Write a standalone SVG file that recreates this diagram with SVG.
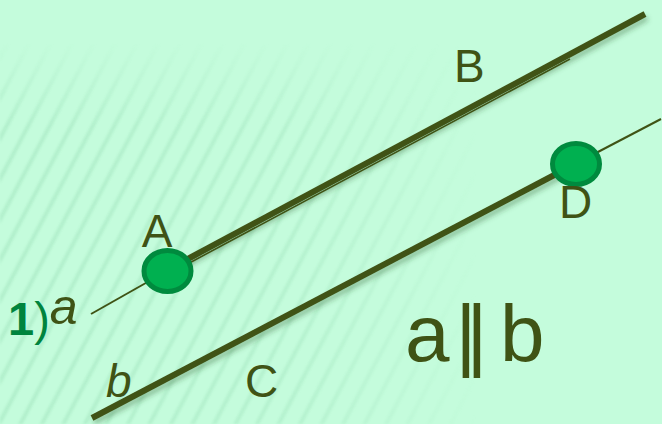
<svg xmlns="http://www.w3.org/2000/svg" width="662" height="424" viewBox="0 0 662 424">
  <defs>
    <style>
      .lbl { font-family: "Liberation Sans", Arial, sans-serif; fill: #3F5315; }
      .thick { stroke: #3F5315; stroke-width: 6; stroke-linecap: butt; fill: none; }
      .thin { stroke: #3F5315; stroke-width: 2; fill: none; }
      .pt { fill: #00B050; stroke: #008A3E; stroke-width: 5; }
    </style>
    <pattern id="stripes" patternUnits="userSpaceOnUse" width="19" height="19" patternTransform="rotate(28)">
      <rect x="6" y="0" width="4" height="19" fill="#A4E6C0"/>
    </pattern>
    <linearGradient id="fadeV" x1="0" y1="0" x2="0" y2="424" gradientUnits="userSpaceOnUse">
      <stop offset="0.1" stop-color="#fff" stop-opacity="0"/>
      <stop offset="0.3" stop-color="#fff" stop-opacity="1"/>
      <stop offset="1" stop-color="#fff" stop-opacity="1"/>
    </linearGradient>
    <linearGradient id="fadeH" x1="0" y1="0" x2="662" y2="0" gradientUnits="userSpaceOnUse">
      <stop offset="0" stop-color="#fff" stop-opacity="1"/>
      <stop offset="0.45" stop-color="#fff" stop-opacity="0.8"/>
      <stop offset="0.72" stop-color="#fff" stop-opacity="0"/>
    </linearGradient>
    <mask id="mV"><rect width="662" height="424" fill="url(#fadeV)"/></mask>
    <mask id="mH"><rect width="662" height="424" fill="url(#fadeH)"/></mask>
    <filter id="blur"><feGaussianBlur stdDeviation="1.2"/></filter>
    <filter id="sh" x="-10%" y="-10%" width="120%" height="130%">
      <feDropShadow dx="2" dy="4" stdDeviation="2.5" flood-color="#2E5A2E" flood-opacity="0.35"/>
    </filter>
  </defs>

  <rect width="662" height="424" fill="#C4FCDC"/>
  <g mask="url(#mV)">
    <g mask="url(#mH)">
      <rect width="662" height="424" fill="url(#stripes)" opacity="0.55" filter="url(#blur)"/>
    </g>
  </g>

  <g id="connectors">
    <line class="thin" x1="91" y1="314" x2="167" y2="271"/>
    <g filter="url(#sh)">
      <line class="thick" x1="184" y1="261" x2="645" y2="14"/>
      <line class="thick" x1="92" y1="418" x2="560" y2="172"/>
    </g>
    <line x1="188" y1="263.7" x2="570" y2="59" stroke="#3F5315" stroke-width="1.6"/>
    <line class="thin" x1="596" y1="153" x2="661" y2="119"/>
  </g>

  <g id="node-A">
    <ellipse class="pt" cx="167.5" cy="271" rx="23.5" ry="20.5"/>
    <text class="lbl" x="157" y="247" font-size="46" text-anchor="middle">A</text>
  </g>
  <g id="node-D">
    <ellipse class="pt" cx="576" cy="164" rx="23.5" ry="20.5"/>
    <text class="lbl" x="559" y="218" font-size="46">D</text>
  </g>
  <g id="label-B"><text class="lbl" x="454" y="82" font-size="46">B</text></g>
  <g id="label-C"><text class="lbl" x="245" y="397" font-size="46">C</text></g>
  <g id="label-b"><text class="lbl" x="106" y="397" font-size="46" font-style="italic">b</text></g>
  <g id="label-1a">
    <text x="8" y="335" font-family="Liberation Sans, Arial, sans-serif" font-size="47" font-weight="bold" fill="#00843D">1<tspan font-weight="normal">)</tspan><tspan font-weight="normal" font-style="italic" fill="#3F5315" font-size="50" dy="-11">a</tspan></text>
  </g>
  <g id="label-parallel">
    <text class="lbl" x="405" y="361" font-size="80">a</text>
    <text class="lbl" x="455.5" y="361" font-size="80" letter-spacing="-9.8">||</text>
    <text class="lbl" x="500" y="361" font-size="80">b</text>
  </g>
</svg>
